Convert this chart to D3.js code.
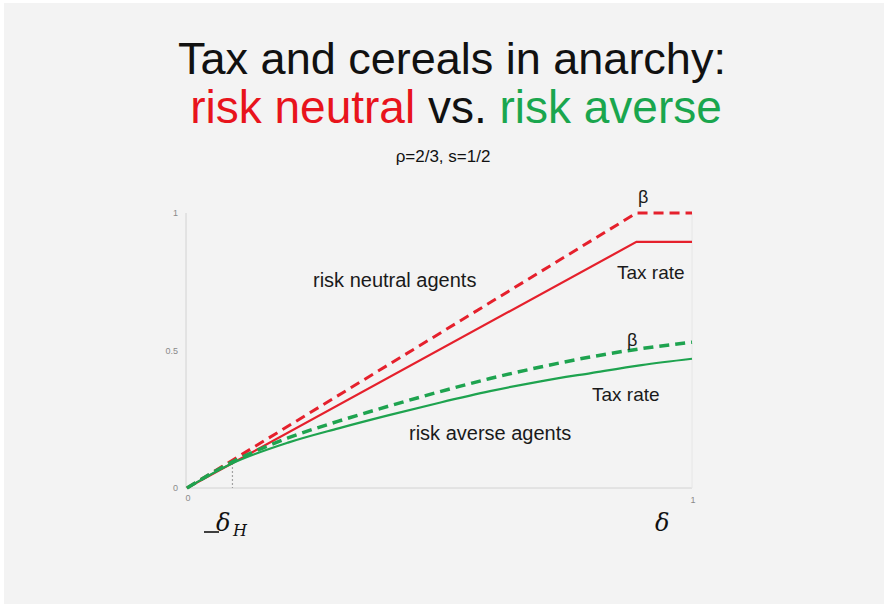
<!DOCTYPE html>
<html><head><meta charset="utf-8">
<script src="https://cdn.jsdelivr.net/npm/d3@7"></script>
<style>
html,body{margin:0;padding:0;background:#fff;}
svg{display:block;}
</style></head>
<body>
<svg id="chart" width="884" height="607"></svg>
<script>
// ---- data ----
const deltaGrid = [0, 0.09, 0.2, 0.3, 0.4, 0.5, 0.6, 0.7, 0.8, 0.9, 1];
const averseBeta = [0, 0.095, 0.182, 0.243, 0.298, 0.35, 0.398, 0.44, 0.477, 0.507, 0.53];
const averseTax  = [0, 0.09, 0.165, 0.217, 0.265, 0.31, 0.352, 0.388, 0.418, 0.447, 0.47];
const neutralX    = [0, 0.89, 1];
const neutralBeta = [0, 1, 1];
const neutralTax  = [0, 0.895, 0.895];
const deltaH = 0.09;
const yTicks = [0, 0.5, 1];
const yTickLabels = ["0", "0.5", "1"];
const xTicks = [0, 1];
const xTickLabels = ["0", "1"];

const RED = "#e5202c", GREEN = "#1ea34f";
const svg = d3.select("#chart");
svg.append("rect").attr("x",4).attr("y",3).attr("width",880).attr("height",601).attr("fill","#f3f3f3");

const x = d3.scaleLinear().domain([0,1]).range([187,692]);
const y = d3.scaleLinear().domain([0,1]).range([488,213]);

// frame
svg.append("line").attr("x1",x(0)-1).attr("x2",x(0)-1).attr("y1",y(1)).attr("y2",y(0)).attr("stroke","#d2d2d2").attr("stroke-width",1);
svg.append("line").attr("x1",x(0)-1).attr("x2",x(1)).attr("y1",y(0)).attr("y2",y(0)).attr("stroke","#d2d2d2").attr("stroke-width",1);
svg.append("line").attr("x1",x(1)).attr("x2",x(1)).attr("y1",y(1)).attr("y2",y(0)).attr("stroke","#e6e6e6").attr("stroke-width",1);

// tick labels
svg.append("g").selectAll("text").data(yTicks).join("text")
  .attr("x",178).attr("y",d=>y(d)+3).attr("text-anchor","end")
  .attr("font-family","Liberation Sans, Arial, sans-serif").attr("font-size",9).attr("fill","#8a8a8a")
  .text((d,i)=>yTickLabels[i]);
svg.append("g").selectAll("text").data(xTicks).join("text")
  .attr("x",d=>x(d)+1).attr("y",(d,i)=>i===0?501:503).attr("text-anchor","middle")
  .attr("font-family","Liberation Sans, Arial, sans-serif").attr("font-size",9).attr("fill","#8a8a8a")
  .text((d,i)=>xTickLabels[i]);

// delta_H dotted
svg.append("line").attr("x1",x(deltaH)).attr("x2",x(deltaH)).attr("y1",y(0.09)).attr("y2",y(0))
  .attr("stroke","#888").attr("stroke-width",1.2).attr("stroke-dasharray","1.5,2.5");

const lineG = d3.line().x((d,i)=>x(deltaGrid[i])).y(d=>y(d)).curve(d3.curveMonotoneX);
const lineR = d3.line().x((d,i)=>x(neutralX[i])).y(d=>y(d));

svg.append("path").attr("d",lineR(neutralTax)).attr("fill","none").attr("stroke",RED).attr("stroke-width",2.2);
svg.append("path").attr("d",lineR(neutralBeta)).attr("fill","none").attr("stroke",RED).attr("stroke-width",3).attr("stroke-dasharray","10,6");
svg.append("path").attr("d",lineG(averseTax)).attr("fill","none").attr("stroke",GREEN).attr("stroke-width",2.2);
svg.append("path").attr("d",lineG(averseBeta)).attr("fill","none").attr("stroke",GREEN).attr("stroke-width",3.5).attr("stroke-dasharray","10,6");

const FONT = "Liberation Sans, Arial, Helvetica, sans-serif";
function txt(t,xx,yy,size,opts={}){
  const e = svg.append("text").attr("x",xx).attr("y",yy).attr("font-family",opts.family||FONT)
    .attr("font-size",size).attr("fill",opts.fill||"#1a1a1a").attr("text-anchor",opts.anchor||"start");
  if(opts.style) e.attr("font-style",opts.style);
  e.text(t); return e;
}
// title
txt("Tax and cereals in anarchy:",452,74,45,{anchor:"middle",fill:"#111"});
const l2 = svg.append("text").attr("x",456).attr("y",123).attr("font-family",FONT).attr("font-size",46).attr("text-anchor","middle");
l2.append("tspan").attr("fill","#e8141c").text("risk neutral");
l2.append("tspan").attr("fill","#111").text(" vs. ");
l2.append("tspan").attr("fill","#1aa64e").text("risk averse");
txt("ρ=2/3, s=1/2",443,162,17,{anchor:"middle",fill:"#111"});

// annotations
txt("risk neutral agents",313,287,20);
txt("Tax rate",617,279,19);
txt("Tax rate",592,401,19);
txt("risk averse agents",409,440,20);
txt("β",638,203,18);
txt("β",627,346,18);

// delta labels
txt("δ",655,531,24,{family:"DejaVu Serif, Liberation Serif, serif",style:"italic",fill:"#111"});
txt("δ",216,531,24,{family:"DejaVu Serif, Liberation Serif, serif",style:"italic",fill:"#111"});
txt("H",233,536,16,{family:"DejaVu Serif, Liberation Serif, serif",style:"italic",fill:"#111"});
svg.append("line").attr("x1",204).attr("x2",219).attr("y1",532).attr("y2",532).attr("stroke","#111").attr("stroke-width",1.6);
</script>
</body></html>
